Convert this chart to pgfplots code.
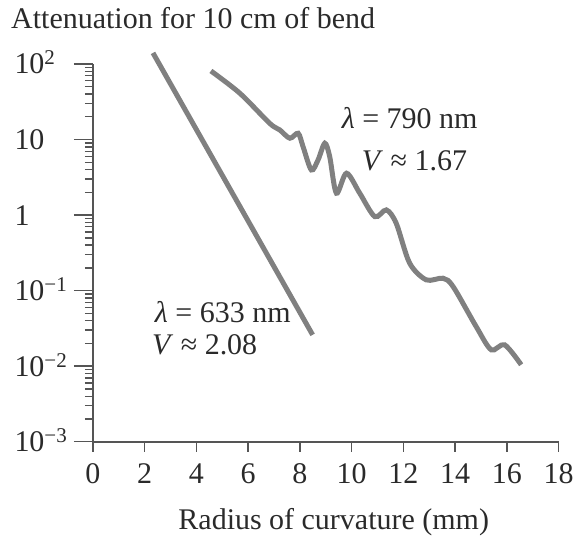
\documentclass[border=0pt]{standalone}
\usepackage{fontspec}
\setmainfont{Liberation Serif}
\usepackage{pgfplots}
\pgfplotsset{compat=1.18}
\definecolor{curve}{HTML}{808080}
\definecolor{axc}{HTML}{555555}
\definecolor{txt}{HTML}{2A2A2A}
\begin{document}
\begin{tikzpicture}
\begin{axis}[
  name=ax,
  scale only axis,
  width=466bp, height=378bp,
  xmin=0, xmax=18, ymin=1e-3, ymax=1e2,
  ymode=log,
  axis lines*=left,
  axis line style={color=axc, line width=1.6bp},
  every tick/.style={color=axc, line width=1.4bp},
  tick align=outside,
  major tick length=19bp,
  minor tick length=8bp,
  xtick style={/pgfplots/major tick length=10bp},
  xtick={0,2,...,18},
  ytick={1e-3,1e-2,1e-1,1,10,100},
  yticklabels={10\textsuperscript{−3},10\textsuperscript{−2},10\textsuperscript{−1},1,10,10\textsuperscript{2}},
  font=\fontsize{30bp}{35bp}\selectfont,
  /pgf/number format/assume math mode=true,
  xticklabel style={anchor=base, text=txt, yshift=-23bp},
  yticklabel style={anchor=base west, text=txt, xshift=-63bp, yshift=-10bp},
  xlabel={Radius of curvature (mm)},
  xlabel style={at={(axis description cs:0.517,0)}, anchor=base, yshift=-88bp, text=txt},
  title={Attenuation for 10 cm of bend},
  title style={at={(axis description cs:0,1)}, anchor=base west, xshift=-82bp, yshift=30bp, text=txt, inner sep=0pt},
  clip=false,
]
\addplot[curve, line width=5bp] coordinates {(2.32,140) (8.49,0.026)};
\addplot[curve, line width=5bp, smooth, tension=0.5] coordinates {
 (4.56,80.8) (5.68,40.9) (6.83,16.4) (7.22,13.4) (7.61,10.4) (7.93,12.1)
 (8.12,8.05) (8.44,3.96) (8.70,5.37) (8.96,8.93) (9.15,5.94) (9.41,1.95)
 (9.80,3.58) (10.31,1.95) (10.89,0.955) (11.34,1.17) (11.72,0.78)
 (12.24,0.231) (12.88,0.139) (13.53,0.146) (13.92,0.113) (14.81,0.0335)
 (15.39,0.0165) (15.91,0.0192) (16.55,0.01045)};
\node[anchor=base west, inner sep=0pt, text=txt] at (axis cs:9.61,14.2) {\textit{λ} = 790 nm};
\node[anchor=base west, inner sep=0pt, text=txt] at (axis cs:10.39,3.84) {\textit{V} ≈ 1.67};
\node[anchor=base west, inner sep=0pt, text=txt] at (axis cs:2.39,0.0375) {\textit{λ} = 633 nm};
\node[anchor=base west, inner sep=0pt, text=txt] at (axis cs:2.28,0.01416) {\textit{V} ≈ 2.08};
\end{axis}
\path[use as bounding box] (ax.south west) ++(-93bp,-99bp) rectangle ++(577bp,541bp);
\end{tikzpicture}
\end{document}
